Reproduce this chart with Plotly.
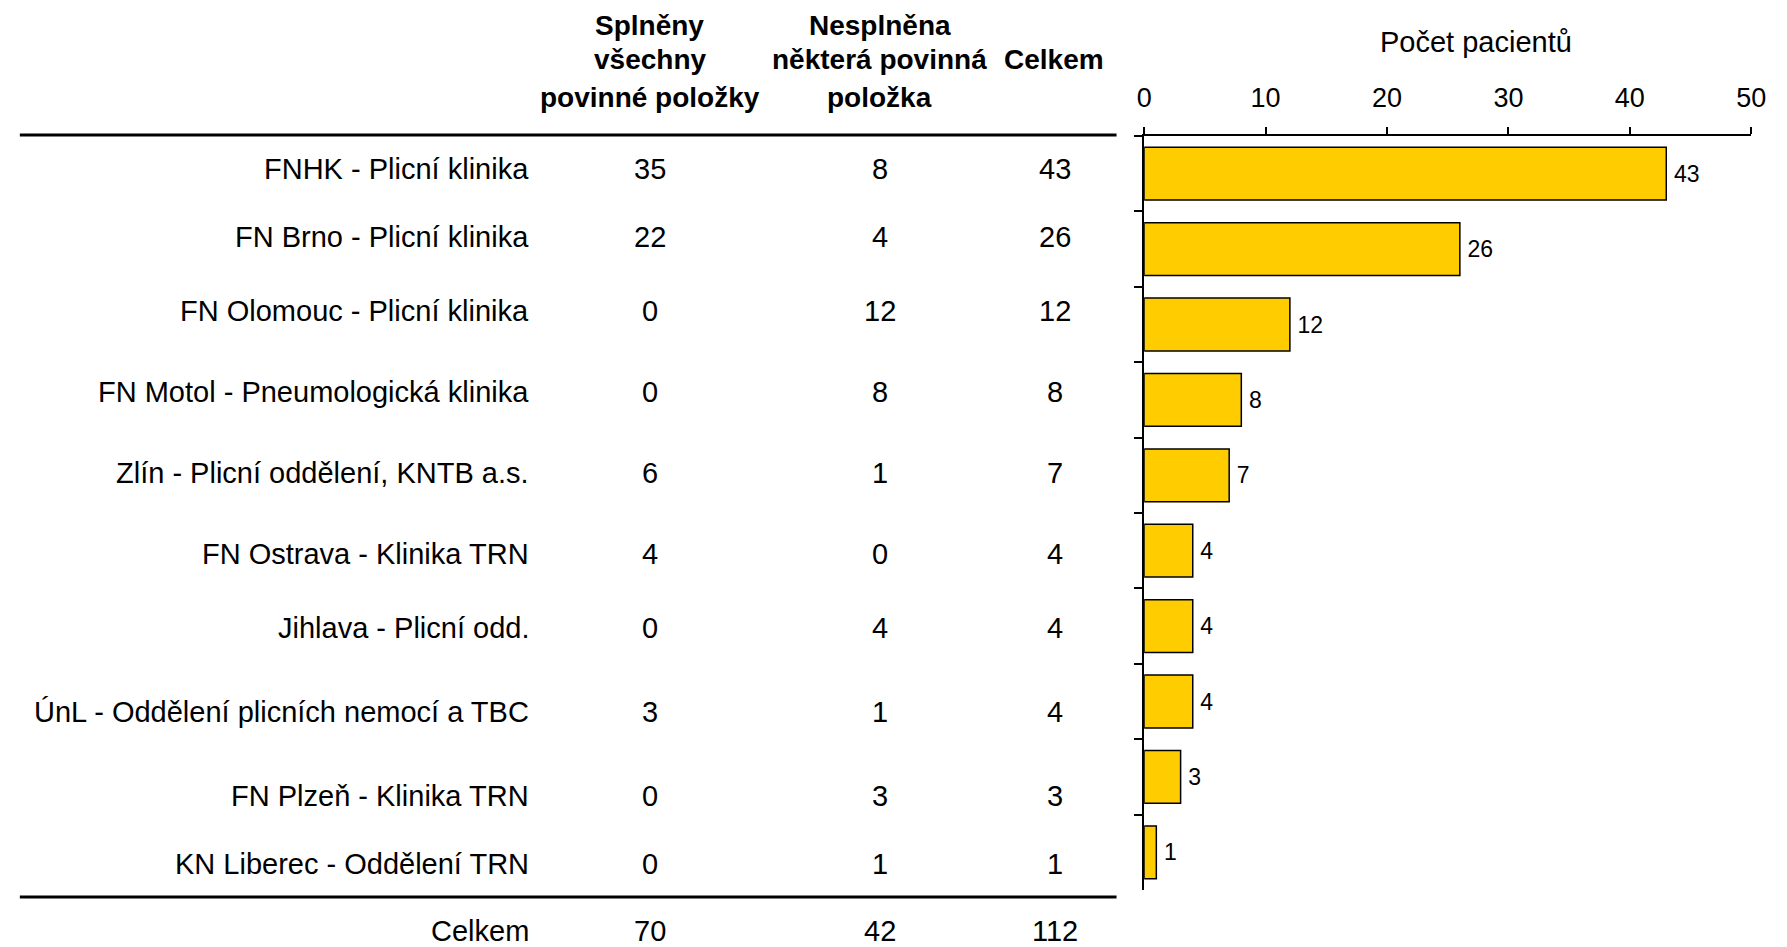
import plotly.graph_objects as go

# ---------------- data ----------------
departments = [
    "FNHK - Plicní klinika",
    "FN Brno - Plicní klinika",
    "FN Olomouc - Plicní klinika",
    "FN Motol - Pneumologická klinika",
    "Zlín - Plicní oddělení, KNTB a.s.",
    "FN Ostrava - Klinika TRN",
    "Jihlava - Plicní odd.",
    "ÚnL - Oddělení plicních nemocí a TBC",
    "FN Plzeň - Klinika TRN",
    "KN Liberec - Oddělení TRN",
]
fulfilled = [35, 22, 0, 0, 6, 4, 0, 3, 0, 0]
not_fulfilled = [8, 4, 12, 8, 1, 0, 4, 1, 3, 1]
total = [43, 26, 12, 8, 7, 4, 4, 4, 3, 1]
total_label = "Celkem"
sum_fulfilled = 70
sum_not_fulfilled = 42
sum_total = 112

header_col1 = ["Splněny", "všechny", "povinné položky"]
header_col2 = ["Nesplněna", "některá povinná", "položka"]
header_col3 = ["Celkem"]
axis_title = "Počet pacientů"
x_ticks = [0, 10, 20, 30, 40, 50]

# ---------------- layout constants (pixels) ----------------
W, H = 1787, 947
FONT = "Arial, 'Liberation Sans', sans-serif"
BAR_COLOR = "#FFCC00"

def px(x):
    return x / W

def py(y):
    return 1 - y / H

row_y = [169, 237, 311, 392, 473, 554, 628, 712, 796, 864]
total_row_y = 931
header_y = [25, 60, 97]
label_right_x = 530
col_x = [650, 883, 1061]
header_x = [650, 883, 1060]

fig = go.Figure()
fig.add_trace(go.Bar(
    x=total,
    y=departments,
    orientation="h",
    marker=dict(color=BAR_COLOR, line=dict(color="black", width=1.5)),
    text=["\u2009" + str(v) for v in total],
    textposition="outside",
    textfont=dict(size=23, color="black", family=FONT),
    cliponaxis=False,
    width=0.7,
    hoverinfo="x+y",
))

annotations = []
txt = dict(size=29, color="black", family=FONT)

def ann(x, y, text, anchor, font):
    return dict(x=px(x), y=py(y), xref="paper", yref="paper", text=text,
                xanchor=anchor, yanchor="middle", showarrow=False, font=font)

for i, name in enumerate(departments):
    annotations.append(ann(label_right_x, row_y[i], name, "right", txt))
    for cx, val in zip(col_x, [fulfilled[i], not_fulfilled[i], total[i]]):
        annotations.append(ann(cx, row_y[i], str(val), "center", txt))

annotations.append(ann(label_right_x, total_row_y, total_label, "right", txt))
for cx, val in zip(col_x, [sum_fulfilled, sum_not_fulfilled, sum_total]):
    annotations.append(ann(cx, total_row_y, str(val), "center", txt))

bold = dict(size=28, color="black", family=FONT, weight="bold")
for j, line in enumerate(header_col1):
    annotations.append(ann(header_x[0], header_y[j], line, "center", bold))
for j, line in enumerate(header_col2):
    annotations.append(ann(header_x[1], header_y[j], line, "center", bold))
annotations.append(ann(header_x[2], header_y[1], header_col3[0], "center", bold))

annotations.append(ann(1487, 42, axis_title, "center", txt))

shapes = [
    dict(type="line", xref="paper", yref="paper", x0=px(12), x1=px(1123),
         y0=py(135), y1=py(135), line=dict(color="black", width=3)),
    dict(type="line", xref="paper", yref="paper", x0=px(12), x1=px(1123),
         y0=py(897), y1=py(897), line=dict(color="black", width=3)),
]

fig.update_layout(
    width=W, height=H,
    margin=dict(l=0, r=0, t=0, b=0),
    paper_bgcolor="white", plot_bgcolor="white",
    showlegend=False,
    font=dict(family=FONT, color="black"),
    annotations=annotations,
    shapes=shapes,
    xaxis=dict(
        domain=[px(1151), px(1766)],
        range=[0, 50], side="top", tickvals=x_ticks,
        ticks="outside", ticklen=7, tickwidth=1.5, tickcolor="black",
        showline=True, linecolor="black", linewidth=1.5,
        showgrid=False, zeroline=False,
        tickfont=dict(size=27, family=FONT, color="black"),
        ticklabelstandoff=9,
    ),
    yaxis=dict(
        domain=[py(890), py(136)],
        autorange="reversed", type="category",
        showticklabels=False, ticks="outside", tickson="boundaries",
        ticklen=8, tickwidth=1.5, tickcolor="black",
        showline=True, linecolor="black", linewidth=1.5,
        showgrid=False, zeroline=False,
    ),
)

fig.write_html("out.html", config={"displayModeBar": False},
               post_script="document.body.style.margin='0';document.body.style.overflow='hidden';")
